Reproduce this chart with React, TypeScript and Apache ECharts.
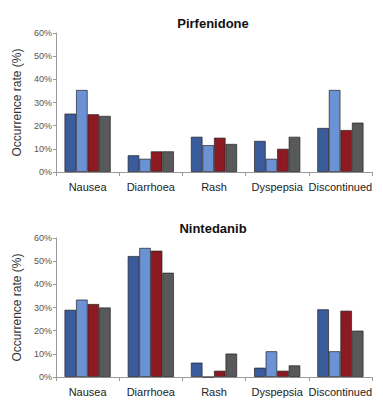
import React, { useEffect, useRef } from "react";
import * as echarts from "echarts";

const categories = ["Nausea", "Diarrhoea", "Rash", "Dyspepsia", "Discontinued"];
const yTicks = [0, 10, 20, 30, 40, 50, 60];

// Pirfenidone (top panel), four groups
const pirfA = [25.2, 7.2, 15.2, 13.4, 19.0];
const pirfB = [35.4, 5.7, 11.6, 5.7, 35.4];
const pirfC = [24.9, 8.9, 14.8, 10.0, 18.1];
const pirfD = [24.2, 8.9, 12.1, 15.2, 21.3];

// Nintedanib (bottom panel), four groups
const ninA = [29.0, 52.2, 6.2, 4.0, 29.2];
const ninB = [33.4, 55.7, 0, 11.1, 11.1];
const ninC = [31.5, 54.5, 2.7, 2.7, 28.6];
const ninD = [30.0, 45.0, 10.1, 5.0, 20.0];

const colors = ["#3b5c9c", "#6a92d4", "#8c1a22", "#58595b"];

export default function App() {
  const ref = useRef<HTMLDivElement>(null);
  useEffect(() => {
    if (!ref.current) return;
    const chart = echarts.init(ref.current, null, { renderer: "svg" });
    const font = "Liberation Sans, Arial, sans-serif";
    const mkX = (gridIndex: number) => ({
      type: "category",
      gridIndex,
      data: categories,
      axisLine: { lineStyle: { color: "#9a9a9a", width: 1 } },
      axisTick: { show: true, length: 4, lineStyle: { color: "#9a9a9a" } },
      axisLabel: { color: "#222", fontSize: 11, fontFamily: font, margin: 9, interval: 0 },
    });
    const mkY = (gridIndex: number) => ({
      type: "value",
      gridIndex,
      min: yTicks[0],
      max: yTicks[yTicks.length - 1],
      interval: 10,
      name: "Occurrence rate (%)",
      nameLocation: "middle",
      nameGap: 29,
      nameTextStyle: { color: "#333", fontSize: 12, fontFamily: font },
      axisLine: { show: true, lineStyle: { color: "#9a9a9a", width: 1 } },
      axisTick: { show: true, length: 3, lineStyle: { color: "#9a9a9a" } },
      axisLabel: { color: "#555", fontSize: 9, fontFamily: font, margin: 4, formatter: "{value}%" },
      splitLine: { show: false },
    });
    const mkSeries = (data: number[], i: number, axis: number) => ({
      type: "bar",
      xAxisIndex: axis,
      yAxisIndex: axis,
      data,
      barGap: "0%",
      barCategoryGap: "27%",
      itemStyle: { color: colors[i], borderColor: "#222", borderWidth: 0.7 },
    });
    chart.setOption({
      animation: false,
      title: [
        {
          text: "Pirfenidone",
          left: 208,
          textAlign: "center",
          top: 12,
          textStyle: { fontSize: 13, fontWeight: "bold", color: "#111", fontFamily: font },
        },
        {
          text: "Nintedanib",
          left: 208,
          textAlign: "center",
          top: 217,
          textStyle: { fontSize: 13, fontWeight: "bold", color: "#111", fontFamily: font },
        },
      ],
      grid: [
        { left: 56, right: 11, top: 33, height: 139 },
        { left: 56, right: 11, top: 238, height: 139 },
      ],
      xAxis: [mkX(0), mkX(1)],
      yAxis: [mkY(0), mkY(1)],
      series: [
        mkSeries(pirfA, 0, 0),
        mkSeries(pirfB, 1, 0),
        mkSeries(pirfC, 2, 0),
        mkSeries(pirfD, 3, 0),
        mkSeries(ninA, 0, 1),
        mkSeries(ninB, 1, 1),
        mkSeries(ninC, 2, 1),
        mkSeries(ninD, 3, 1),
      ],
    });
    return () => chart.dispose();
  }, []);
  return (
    <div
      ref={ref}
      style={{ position: "fixed", left: 0, top: 0, width: 383, height: 406, background: "#fff" }}
    />
  );
}
